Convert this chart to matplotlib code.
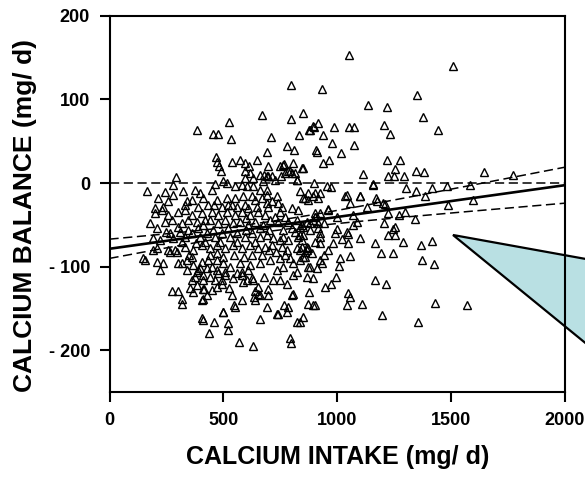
import numpy as np
import matplotlib.pyplot as plt
from matplotlib.patches import Polygon

# points above the zero line
intake_hi = [385, 453, 478, 526, 532, 668, 709, 797, 797, 848,
             833, 877, 898, 917, 781, 811, 690, 907, 468, 471,
             482, 539, 573, 595, 614, 646, 696, 1053, 1510, 932,
             1352, 1136, 1220, 1375, 1444, 880, 986, 1052, 1075, 1205,
             1232, 939, 976, 910, 1075, 1017, 939, 965, 1220, 1276,
             1254, 848, 748, 766, 807, 844, 490, 1644, 1770, 895]
balance_hi = [63, 59, 59, 73, 53, 81, 55, 117, 76, 84,
              58, 63, 67, 72, 44, 40, 37, 39, 31, 25,
              20, 25, 28, 24, 20, 28, 21, 153, 140, 112,
              105, 93, 91, 79, 63, 63, 67, 67, 67, 69,
              59, 57, 48, 37, 45, 36, 24, 27, 28, 28,
              17, 18, 20, 23, 24, 18, 15, 13, 10, 68]

# points around zero
intake_mid = [166, 292, 280, 500, 515, 595, 617, 632, 595, 661,
              690, 676, 678, 697, 1224, 1249, 1293, 1115, 1347, 1382,
              1158, 1481, 1583, 954, 971, 1302, 1345, 1417, 1042, 1100,
              1170, 1385, 785, 800, 825, 763, 793, 771, 815, 753,
              727, 712, 822, 899, 1159, 873, 851, 836, 902, 917,
              244, 324, 375, 397, 449, 463, 551, 580, 602, 214,
              258, 339, 361, 412, 471, 515, 551, 588, 624, 668,
              924, 895, 873, 858]
balance_mid = [-10, 7, -2, 2, 0, 14, 12, 6, 6, 10,
               8, 2, 10, 8, 8, 8, 9, 11, 14, 13,
               -1, -3, -2, -4, -5, -6, -9, -6, -14, -15,
               -18, -16, 14, 12, 4, 22, 14, 12, 12, 8,
               4, 8, 4, 0, -2, -20, -18, -10, -12, -18,
               -11, -10, -8, -12, -8, -1, -4, -2, -4, -18,
               -22, -22, -20, -18, -20, -18, -18, -16, -16, -18,
               -12, -16, -12, -18]

# dense core
intake_core = [690, 712, 697, 734, 741, 756, 749, 727, 705, 741,
               771, 785, 800, 815, 829, 822, 844, 763, 720, 749,
               785, 829, 844, 866, 822, 756, 712, 771, 793, 858,
               888, 690, 434, 493, 537, 595, 646, 200, 229, 258,
               302, 332, 361, 405, 449, 478, 515, 551, 580, 617,
               654, 683, 207, 244, 273, 317, 346, 383, 412, 441,
               478, 507, 544, 573, 610, 639, 676, 192, 222, 280,
               288, 310, 332, 361, 397, 427, 463, 493, 529, 558,
               595, 624, 661, 690, 148, 207, 258, 332, 368, 405,
               441, 471, 507, 544, 580, 617, 654, 683, 200, 156,
               210, 236, 266, 295, 317, 339, 361, 339, 368, 397,
               836, 807, 763, 734, 573, 617, 661, 705, 749, 405,
               434, 471, 500, 529, 427, 836, 836, 844, 836, 866,
               895, 902, 917, 880, 866, 851, 902, 924, 961, 924,
               902, 1056, 1210, 1173, 1129, 961, 1224, 1271, 1298, 1341,
               1068, 1085, 1071, 1205, 1254, 1246, 998, 1042, 1049, 1224,
               1254, 1020, 1049, 1100, 983, 1166, 1192, 1246, 1287, 1366,
               1417, 1056, 1012, 924, 924, 917, 942, 932, 924, 873,
               858, 851, 1488, 1595, 1034, 1100, 1203, 632, 661, 690,
               280, 1371, 1426, 1009]
balance_core = [-14, -22, -28, -16, -24, -28, -34, -40, -44, -46,
                -40, -46, -54, -58, -32, -44, -50, -64, -66, -68,
                -68, -64, -76, -80, -78, -76, -74, -86, -90, -88,
                -84, -24, -26, -28, -26, -26, -28, -36, -32, -38,
                -34, -32, -38, -36, -34, -38, -34, -38, -34, -38,
                -34, -38, -54, -46, -44, -48, -44, -46, -50, -44,
                -48, -44, -48, -46, -50, -46, -50, -66, -68, -66,
                -80, -58, -64, -60, -64, -60, -64, -60, -64, -60,
                -64, -60, -64, -62, -90, -78, -80, -76, -80, -74,
                -78, -74, -78, -74, -78, -74, -78, -76, -30, -92,
                -94, -95, -82, -82, -96, -92, -88, -104, -98, -102,
                -92, -96, -100, -104, -96, -98, -96, -92, -90, -94,
                -92, -92, -96, -100, -102, -52, -62, -68, -80, -76,
                -44, -40, -48, -48, -46, -52, -36, -36, -31, -72,
                -70, -24, -25, -21, -28, -32, -36, -38, -35, -43,
                -38, -46, -50, -48, -52, -55, -55, -58, -61, -62,
                -62, -67, -72, -66, -72, -72, -83, -84, -71, -74,
                -69, -87, -89, -64, -60, -54, -86, -96, -92, -78,
                -82, -88, -26, -20, -16, -16, -24, -4, -8, -8,
                -14, -92, -97, -99]

# more of the dense core
intake_core2 = [300, 345, 390, 420, 455, 485, 520, 560, 600, 640,
                700, 730, 320, 350, 380, 440, 470, 500, 545, 590,
                625, 670, 700, 330, 390, 420, 460, 520, 560, 610,
                640, 600, 660, 250, 235, 180, 190, 265, 300, 450,
                560, 610, 680, 780, 760, 800, 850, 880, 940, 960,
                1000, 990]
balance_core2 = [-52, -56, -54, -70, -56, -70, -54, -70, -56, -70,
                 -56, -82, -70, -86, -72, -86, -84, -88, -86, -88,
                 -86, -86, -80, -26, -28, -44, -26, -26, -28, -30,
                 -20, -42, -54, -58, -28, -48, -80, -60, -96, -100,
                 -108, -104, -112, -80, -56, -30, -62, -56, -48, -80,
                 -40, -60]

# low tail
intake_lo = [222, 276, 302, 317, 317, 353, 383, 368, 416, 405,
             412, 405, 460, 519, 519, 437, 500, 547, 551, 583,
             539, 525, 570, 631, 661, 636, 651, 639, 690, 544,
             587, 581, 624, 493, 507, 478, 441, 376, 361, 383,
             412, 409, 697, 741, 778, 785, 822, 851, 877, 873,
             902, 800, 793, 797, 734, 768, 807, 497, 412, 427,
             449, 471, 493, 463, 412, 390, 471, 507, 580, 602,
             632, 654, 661, 639, 697, 720, 749, 778, 807, 822,
             866, 895, 910, 873, 993, 973, 946, 1046, 1056, 1042,
             1107, 1166, 1214, 1195, 1353, 1429, 1571, 892, 836, 880]
balance_lo = [-104, -129, -129, -138, -144, -125, -122, -130, -126, -140,
              -164, -161, -166, -167, -175, -179, -154, -146, -148, -140,
              -134, -125, -190, -195, -163, -136, -133, -129, -148, -114,
              -118, -106, -114, -116, -106, -108, -112, -112, -116, -106,
              -116, -126, -134, -156, -154, -148, -166, -160, -130, -144,
              -146, -134, -185, -191, -157, -146, -133, -154, -138, -134,
              -128, -124, -120, -116, -110, -104, -104, -110, -110, -116,
              -116, -124, -134, -140, -126, -116, -116, -120, -110, -106,
              -112, -114, -102, -100, -112, -120, -124, -131, -136, -146,
              -145, -116, -120, -158, -166, -143, -146, -146, -166, -100]

# regression line and 95% band
fit_intercept = -78.5
fit_slope = 0.038
band_half_0 = 11.5
band_half_2000 = 21.5
band_center_x = 650

intake = intake_hi + intake_mid + intake_core + intake_core2 + intake_lo
balance = balance_hi + balance_mid + balance_core + balance_core2 + balance_lo

plt.rcParams['font.family'] = ['Liberation Sans', 'DejaVu Sans']
plt.rcParams['font.weight'] = 'bold'

fig = plt.figure(figsize=(5.85, 4.79), dpi=100)
ax = fig.add_axes([109.5 / 585, 1 - 392.3 / 479, 455.5 / 585, 376.6 / 479])

dash = (0, (6, 3))
ax.axhline(0, color='black', lw=1.1, linestyle=dash, zorder=1)
ax.plot(intake, balance, linestyle='none', marker='^', ms=5.5,
        mfc='none', mec='black', mew=1.0, zorder=3)

xs = np.linspace(0, 2000, 200)
fit = fit_intercept + fit_slope * xs
b = (band_half_2000 ** 2 - band_half_0 ** 2) / ((2000 - band_center_x) ** 2 - band_center_x ** 2)
a = band_half_0 ** 2 - b * band_center_x ** 2
half = np.sqrt(a + b * (xs - band_center_x) ** 2)
ax.plot(xs, fit, color='black', lw=1.9, zorder=4)
ax.plot(xs, fit + half, color='black', lw=1.1, linestyle=dash, zorder=4)
ax.plot(xs, fit - half, color='black', lw=1.1, linestyle=dash, zorder=4)

ax.set_xlim(0, 2000)
ax.set_ylim(-250, 200)
ax.set_xticks([0, 500, 1000, 1500, 2000])
ax.set_yticks([-200, -100, 0, 100, 200])
ax.set_yticklabels(['- 200', '- 100', '0', '100', '200'])
ax.tick_params(direction='out', length=7, width=1.5, labelsize=13, pad=7)
for s in ax.spines.values():
    s.set_linewidth(1.5)

ax.set_xlabel('CALCIUM INTAKE (mg/ d)', fontsize=18, fontweight='bold')
ax.xaxis.set_label_coords(0.5, -0.14)
ax.set_ylabel('CALCIUM BALANCE (mg/ d)', fontsize=19, fontweight='bold')
ax.yaxis.set_label_coords(-0.16, 0.47)

# callout shape
tri = Polygon([[453 / 585, 1 - 235 / 479], [1.03, 1 - 262 / 479], [1.03, 1 - 357 / 479]],
              closed=True, transform=fig.transFigure, facecolor='#b9e0e3',
              edgecolor='black', lw=1.6, clip_on=False, zorder=2)
ax.add_patch(tri)

fig.savefig('out.png', dpi=100)
